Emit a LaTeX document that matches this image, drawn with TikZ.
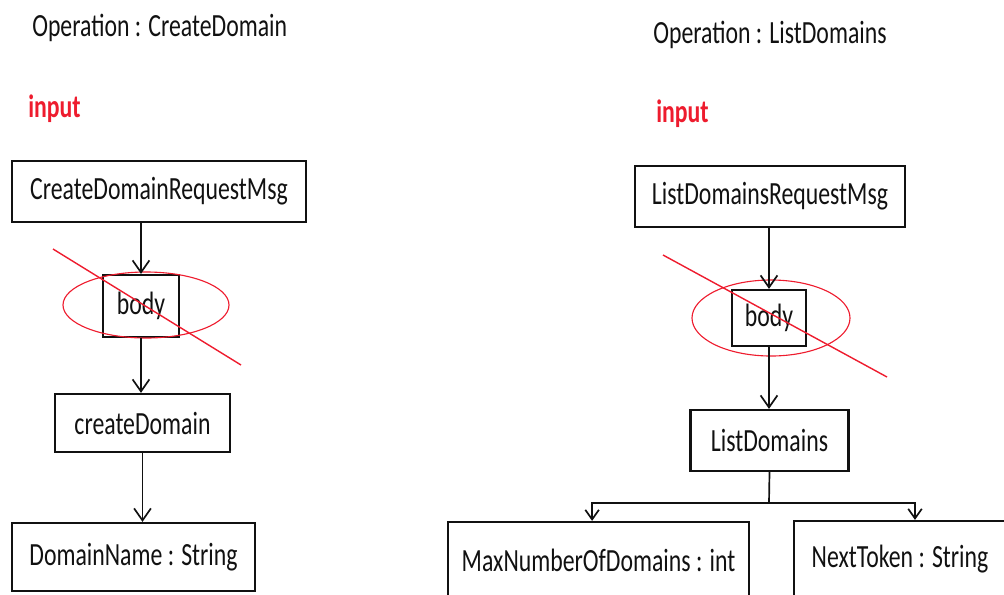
\documentclass[tikz,border=0pt]{standalone}
\usepackage{fontspec}
\setmainfont{Carlito}[FakeStretch=0.735]
\usepackage{tikz}
\usetikzlibrary{arrows.meta,shapes.geometric}
\definecolor{wsdlInk}{HTML}{111111}
\definecolor{wsdlRed}{HTML}{EE1C2E}

\begin{document}
\begin{tikzpicture}[
  x=0.25mm, y=-0.25mm,
  font=\fontsize{23}{27}\selectfont,
  box/.style={draw=wsdlInk, line width=1.6pt, inner sep=0pt, align=center, text=wsdlInk},
  title/.style={anchor=base west, inner sep=0pt, text=wsdlInk},
  part/.style={anchor=base west, inner sep=0pt, text=wsdlRed, font=\fontsize{23}{27}\selectfont\bfseries},
  ring/.style={draw=wsdlRed, ellipse, line width=.8pt, inner sep=0pt},
  strike/.style={draw=wsdlRed, line width=1pt},
  flow/.style={-{Straight Barb[length=3mm, width=4.2mm]}, line width=1.2pt, draw=wsdlInk},
  branch/.style={-{Straight Barb[length=2.4mm, width=3.4mm]}, line width=1.2pt, draw=wsdlInk}
]
  \clip (0,0) rectangle (1004,594);

  % CreateDomain
  \node[title] (opL) at (32,36) {Operation : CreateDomain};
  \node[part] (inL) at (28,117) {input};
  \node[box, minimum width=73.5mm, minimum height=15.25mm] (reqL) at (159,191.5) {CreateDomainRequestMsg};
  \node[box, minimum width=19mm, minimum height=15.5mm] (bodyL) at (141,306) {body};
  \node[box, minimum width=43.75mm, minimum height=14.5mm] (createL) at (142.5,423) {createDomain};
  \node[box, minimum width=60.75mm, minimum height=17mm] (nameL) at (133.5,557) {DomainName : String};
  \node[ring, minimum width=41.5mm, minimum height=16.5mm] (ringL) at (146,305) {};
  \coordinate (cutLa) at (53,249);
  \coordinate (cutLb) at (241,365);

  % ListDomains
  \node[title] (opR) at (653,43) {Operation : ListDomains};
  \node[part] (inR) at (656,122) {input};
  \node[box, minimum width=67.5mm, minimum height=15.25mm] (reqR) at (770,196.5) {ListDomainsRequestMsg};
  \node[box, minimum width=18.5mm, minimum height=14mm] (bodyR) at (769,318) {body};
  \node[box, minimum width=39.5mm, minimum height=15.25mm] (listR) at (769.5,440.5) {ListDomains};
  \node[box, minimum width=75.25mm, minimum height=19mm] (maxR) at (598.5,560) {MaxNumberOfDomains : int};
  \node[box, minimum width=53mm, minimum height=19mm] (tokR) at (900,559) {NextToken : String};
  \node[ring, minimum width=39.5mm, minimum height=19mm] (ringR) at (771,318) {};
  \coordinate (cutRa) at (663,255);
  \coordinate (cutRb) at (887,377);
  \coordinate (forkR) at (769,503);

  \draw[flow] (bodyL.north |- reqL.south) -- (bodyL.north);
  \draw[flow] (bodyL.south) -- (bodyL.south |- createL.north);
  \draw[flow] (createL.south) -- (createL.south |- nameL.north);
  \draw[strike] (cutLa) -- (cutLb);

  \draw[flow] (bodyR.north |- reqR.south) -- (bodyR.north);
  \draw[flow] (bodyR.south) -- (bodyR.south |- listR.north);
  \draw[line width=1.2pt, draw=wsdlInk] (listR.south) -- (forkR);
  \draw[branch] (forkR) -| ([xshift=-1.6mm]maxR.north);
  \draw[branch] (forkR) -| ([xshift=3.75mm]tokR.north);
  \draw[strike] (cutRa) -- (cutRb);
\end{tikzpicture}
\end{document}
